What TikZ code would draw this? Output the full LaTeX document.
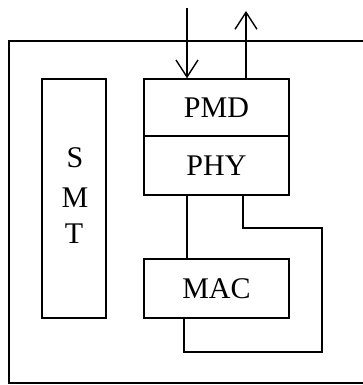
\documentclass[tikz,border=0pt]{standalone}
\usepackage{fontspec}
\setmainfont{Liberation Serif}
\usetikzlibrary{arrows.meta}
\begin{document}
\begin{tikzpicture}[x=1pt,y=-1pt, line width=1.4pt,
  lbl/.style={font=\fontsize{30}{30}\selectfont, inner sep=0pt},
  layer/.style={draw, minimum width=145pt, inner sep=0pt, font=\fontsize{30}{30}\selectfont},
  barb/.style={-{Straight Barb[length=17pt,width=22pt,line width=1.4pt]}}]
\useasboundingbox (0,0) rectangle (363,385);
% outer frame (right side lies beyond the picture)
\coordinate (fTR) at (363,41);
\coordinate (fTL) at (9,41);
\coordinate (fBL) at (9,383);
\coordinate (fBR) at (363,383);
\draw (fTR) -- (fTL) -- (fBL) -- (fBR);
% SMT
\node[draw, minimum width=64pt, minimum height=239pt] (smt) at (74,198.5) {};
\node[lbl] (s) at (75,158) {S};
\node[lbl] (m) at (75,198) {M};
\node[lbl] (t) at (74,234) {T};
% layers
\node[layer, minimum height=57pt] (pmd) at (216.5,107.5) {PMD};
\node[layer, minimum height=59pt] (phy) at (216.5,165.5) {PHY};
\node[layer, minimum height=59pt] (mac) at (216.5,288.5) {MAC};
% arrows
\coordinate (inTop) at (187,8);
\coordinate (outTop) at (246,11);
\draw[barb] (inTop) -- (inTop |- pmd.north);
\draw[barb] (outTop |- pmd.north) -- (outTop);
% PHY - MAC
\draw (inTop |- phy.south) -- (inTop |- mac.north);
% loop
\coordinate (pX) at (243,0);
\coordinate (loopR) at (322,228);
\coordinate (loopB) at (184,352);
\draw (pX |- phy.south) |- (loopR) |- (loopB) -- (loopB |- mac.south);
\end{tikzpicture}
\end{document}
